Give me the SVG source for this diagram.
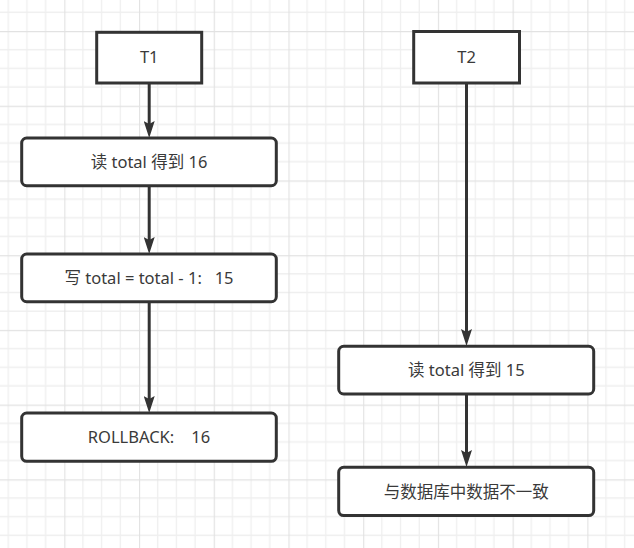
<svg xmlns="http://www.w3.org/2000/svg" width="634" height="548" viewBox="0 0 634 548">
  <defs>
    <style>
      .box { fill: #ffffff; stroke: #333333; stroke-width: 3; }
      .label { font-family: "Noto Sans", "Noto Sans CJK SC", sans-serif; font-size: 16.5px; fill: #3a3a3a; text-anchor: middle; white-space: pre; }
      .edge { stroke: #333333; stroke-width: 3; fill: none; marker-end: url(#arrow); }
      .minor { stroke: #efefef; stroke-width: 1.3; }
      .major { stroke: #e2e2e2; stroke-width: 1.3; }
    </style>
    <pattern id="grid" patternUnits="userSpaceOnUse" x="64.3" y="31" width="74.72" height="74.72">
      <line class="minor" x1="18.68" y1="0" x2="18.68" y2="74.72"/>
      <line class="minor" x1="37.36" y1="0" x2="37.36" y2="74.72"/>
      <line class="minor" x1="56.04" y1="0" x2="56.04" y2="74.72"/>
      <line class="minor" x1="0" y1="18.68" x2="74.72" y2="18.68"/>
      <line class="minor" x1="0" y1="37.36" x2="74.72" y2="37.36"/>
      <line class="minor" x1="0" y1="56.04" x2="74.72" y2="56.04"/>
      <line class="major" x1="0.5" y1="0" x2="0.5" y2="74.72"/>
      <line class="major" x1="0" y1="0.5" x2="74.72" y2="0.5"/>
    </pattern>
    <marker id="arrow" markerUnits="userSpaceOnUse" viewBox="0 0 17 11" markerWidth="17" markerHeight="11" refX="9" refY="5.5" orient="auto">
      <path d="M0,0 L17,5.5 L0,11 L3,5.5 Z" fill="#333333"/>
    </marker>
  </defs>

  <!-- canvas grid -->
  <rect width="634" height="548" fill="#ffffff"/>
  <rect width="634" height="548" fill="url(#grid)"/>

  <!-- connectors -->
  <g id="edges">
    <line class="edge" x1="149.2" y1="84" x2="149.2" y2="130"/>
    <line class="edge" x1="149.2" y1="187" x2="149.2" y2="246"/>
    <line class="edge" x1="149.2" y1="303" x2="149.2" y2="405"/>
    <line class="edge" x1="466.5" y1="84" x2="466.5" y2="338"/>
    <line class="edge" x1="466.5" y1="395" x2="466.5" y2="459"/>
  </g>

  <!-- transaction T1 -->
  <g id="t1">
    <rect class="box" x="96.7" y="32.3" width="105" height="50.7"/>
    <text class="label" x="149.2" y="62.7">T1</text>
  </g>
  <g id="t1-read">
    <rect class="box" x="21.7" y="138" width="254.6" height="47.7" rx="5"/>
    <text class="label" x="149" y="168.3">读 total 得到 16</text>
  </g>
  <g id="t1-write">
    <rect class="box" x="21.7" y="254" width="254.6" height="47.7" rx="5"/>
    <text class="label" x="149" y="284">写 total = total - 1:   15</text>
  </g>
  <g id="t1-rollback">
    <rect class="box" x="21.7" y="413" width="254.6" height="48.3" rx="5"/>
    <text class="label" x="149" y="443.3">ROLLBACK:    16</text>
  </g>

  <!-- transaction T2 -->
  <g id="t2">
    <rect class="box" x="413.7" y="31.5" width="105.8" height="51.5"/>
    <text class="label" x="466.6" y="62.7">T2</text>
  </g>
  <g id="t2-read">
    <rect class="box" x="338.7" y="346.3" width="255" height="47.7" rx="5"/>
    <text class="label" x="466.3" y="375.7">读 total 得到 15</text>
  </g>
  <g id="t2-result">
    <rect class="box" x="338.7" y="467.3" width="255" height="48.3" rx="5"/>
    <text class="label" x="466.3" y="497.5">与数据库中数据不一致</text>
  </g>
</svg>
